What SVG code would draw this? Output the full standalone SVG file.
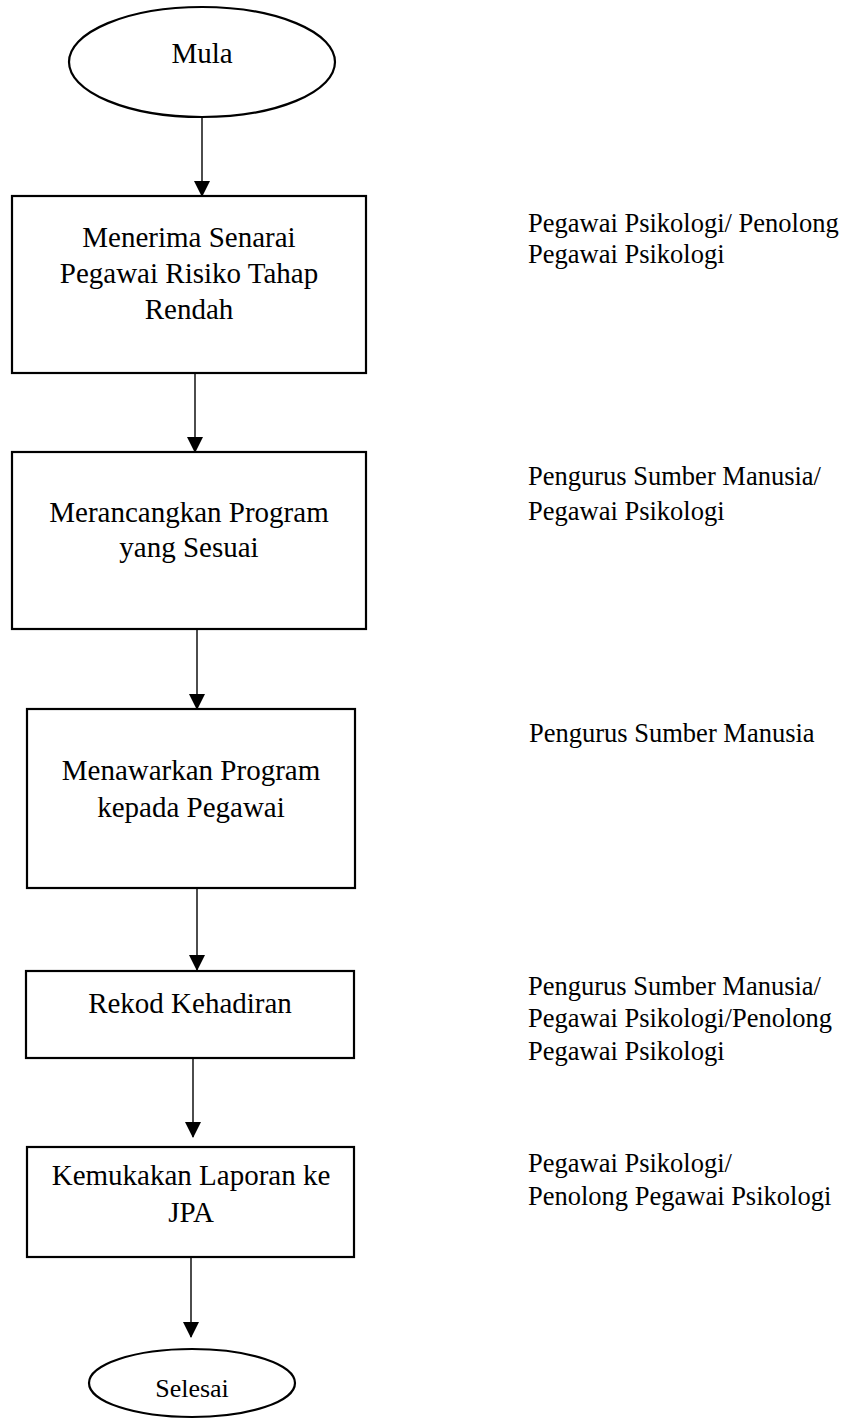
<svg xmlns="http://www.w3.org/2000/svg" width="853" height="1421" viewBox="0 0 853 1421">
<style>
.shape{fill:#fff;stroke:#000;stroke-width:2.2}
.line{stroke:#000;stroke-width:1.4;fill:none}
.t{font-family:"Liberation Serif","Times New Roman",serif;font-size:29px;fill:#000;text-anchor:middle}
.r{font-family:"Liberation Serif","Times New Roman",serif;font-size:26.5px;fill:#000}
</style>
<defs>
<marker id="ah" markerWidth="16" markerHeight="16" viewBox="0 0 16 16" refX="15" refY="8" orient="auto" markerUnits="userSpaceOnUse">
<path d="M0,0 L16,8 L0,16 Z" fill="#000"/>
</marker>
</defs>
<rect width="853" height="1421" fill="#fff"/>
<g id="connectors">
<line class="line" x1="202" y1="117" x2="202" y2="196" marker-end="url(#ah)"/>
<line class="line" x1="195" y1="373" x2="195" y2="452" marker-end="url(#ah)"/>
<line class="line" x1="197" y1="629" x2="197" y2="709" marker-end="url(#ah)"/>
<line class="line" x1="197" y1="888" x2="197" y2="970" marker-end="url(#ah)"/>
<line class="line" x1="193" y1="1058" x2="193" y2="1137" marker-end="url(#ah)"/>
<line class="line" x1="191" y1="1258" x2="191" y2="1337" marker-end="url(#ah)"/>
</g>
<g id="start">
<ellipse class="shape" cx="202" cy="62" rx="133" ry="55"/>
<text class="t" x="202" y="63">Mula</text>
</g>
<g id="step1">
<rect class="shape" x="12" y="196" width="354" height="177"/>
<text class="t" x="189" y="247">Menerima Senarai</text>
<text class="t" x="189" y="283">Pegawai Risiko Tahap</text>
<text class="t" x="189" y="319">Rendah</text>
</g>
<g id="step2">
<rect class="shape" x="12" y="452" width="354" height="177"/>
<text class="t" x="189" y="522">Merancangkan Program</text>
<text class="t" x="189" y="557">yang Sesuai</text>
</g>
<g id="step3">
<rect class="shape" x="27" y="709" width="328" height="179"/>
<text class="t" x="191" y="780">Menawarkan Program</text>
<text class="t" x="191" y="817">kepada Pegawai</text>
</g>
<g id="step4">
<rect class="shape" x="26" y="971" width="328" height="87"/>
<text class="t" x="190" y="1013">Rekod Kehadiran</text>
</g>
<g id="step5">
<rect class="shape" x="27" y="1147" width="327" height="110"/>
<text class="t" x="191" y="1185">Kemukakan Laporan ke</text>
<text class="t" x="191" y="1222">JPA</text>
</g>
<g id="end">
<ellipse class="shape" cx="192" cy="1383" rx="103" ry="34"/>
<text class="t" x="192" y="1397" style="font-size:26px">Selesai</text>
</g>
<g id="roles">
<text class="r" x="528" y="232">Pegawai Psikologi/ Penolong</text>
<text class="r" x="528" y="263">Pegawai Psikologi</text>
<text class="r" x="528" y="485">Pengurus Sumber Manusia/</text>
<text class="r" x="528" y="520">Pegawai Psikologi</text>
<text class="r" x="529" y="742">Pengurus Sumber Manusia</text>
<text class="r" x="528" y="995">Pengurus Sumber Manusia/</text>
<text class="r" x="528" y="1027">Pegawai Psikologi/Penolong</text>
<text class="r" x="528" y="1060">Pegawai Psikologi</text>
<text class="r" x="528" y="1172">Pegawai Psikologi/</text>
<text class="r" x="528" y="1205">Penolong Pegawai Psikologi</text>
</g>
</svg>
